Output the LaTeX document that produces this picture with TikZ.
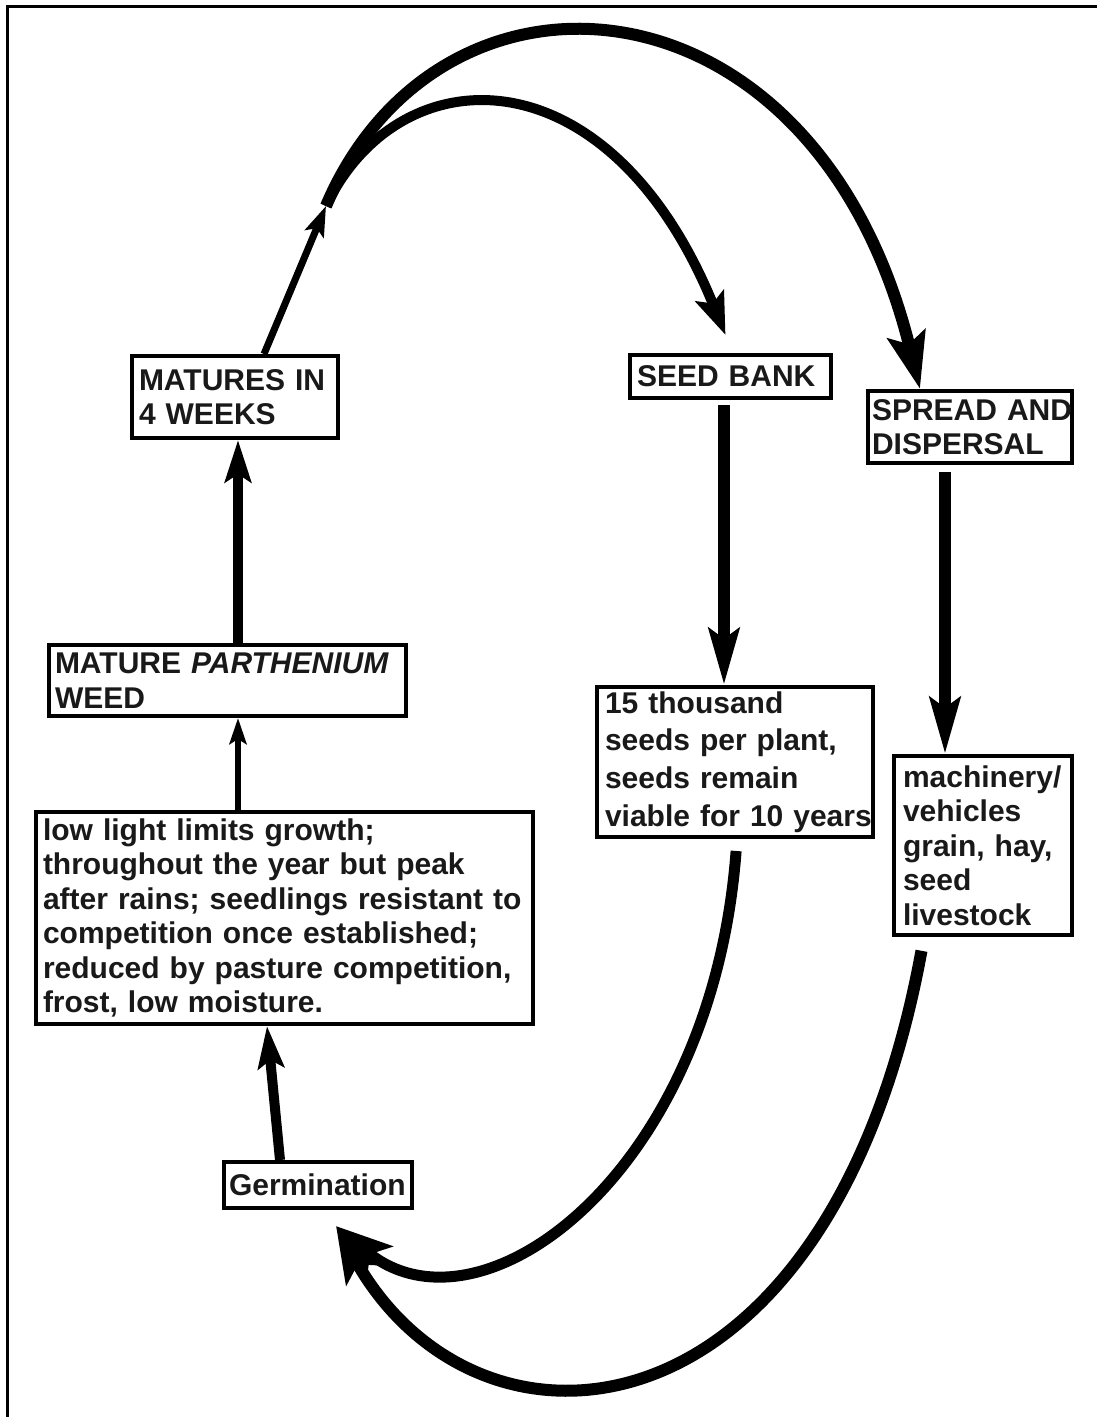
\documentclass[tikz,border=0pt]{standalone}
\usepackage{fontspec}
\setmainfont{Liberation Sans}
\usetikzlibrary{arrows.meta}
\begin{document}
\begin{tikzpicture}[x=1pt,y=-1pt,line cap=butt,
  box/.style={draw=black, line width=4pt, fill=white, anchor=north west, align=left,
    inner ysep=1pt, text=black!90, font=\fontsize{30}{34.5}\selectfont\bfseries},
  flow/.style={draw=black, line width=#1},
  smallhead/.style={-{Stealth[length=26pt,width=17pt,inset=5pt]}},
  midhead/.style={-{Stealth[length=42pt,width=26pt,inset=8pt]}},
  longhead/.style={-{Stealth[length=56pt,width=30pt,inset=10pt]}},
  bighead/.style={-{Stealth[length=56pt,width=40pt,inset=12pt]}}]
\useasboundingbox (0,0) rectangle (1097,1417);
\fill[white] (0,0) rectangle (1097,1417);
\draw[line width=3pt] (7,1417) -- (7,6) -- (1097,6);

% boxes
\node[box, inner xsep=7pt, text width=192pt, minimum height=82pt] (mat) at (130,354)
  {MATURES~IN\\4~WEEKS};
\node[box, inner xsep=6pt, text width=345pt, minimum height=71pt] (wee) at (47,643)
  {MATURE~\textit{PARTHENIUM}\\WEED};
\node[box, inner xsep=7pt, text width=483pt, minimum height=212pt] (big) at (34,810)
  {low light limits growth;\\throughout the year but peak\\after~rains;~seedlings~resistant~to\\competition once established;\\reduced~by~pasture~competition,\\frost, low moisture.};
\node[box, inner xsep=5pt, text width=178pt, minimum height=46pt] (ger) at (222,1160)
  {Germination};
\node[box, inner xsep=7pt, text width=187pt, minimum height=43pt] (sb) at (628,353)
  {SEED~BANK};
\node[box, inner xsep=4pt, text width=196pt, minimum height=72pt] (sp) at (866,389)
  {SPREAD~AND\\DISPERSAL};
\node[box, inner xsep=8pt, text width=260pt, minimum height=150pt,
  font=\fontsize{30}{37.7}\selectfont\bfseries] (th) at (595,685)
  {15~thousand\\seeds~per~plant,\\seeds~remain\\viable~for~10~years};
\node[box, inner xsep=9pt, text width=160pt, minimum height=179pt] (mac) at (892,754)
  {machinery/\\vehicles\\grain,~hay,\\seed\\livestock};

% junction above the first box
\coordinate (j) at (326,206);

% straight arrows
\draw[flow=7pt, -{Stealth[length=30pt,width=20pt,inset=6pt]}]
  ([xshift=29pt]mat.north) -- (j);
\draw[flow=10pt, midhead] ([xshift=10.5pt]wee.north) -- ([xshift=3pt]mat.south);
\draw[flow=6pt, smallhead] ([xshift=-46.5pt]big.north) -- ([xshift=10.5pt]wee.south);
\draw[flow=10pt, midhead] ([xshift=-38pt]ger.north) -- ([xshift=-17.5pt]big.south);
\draw[flow=12pt, longhead, shorten <=5pt] ([xshift=-6.5pt]sb.south) -- ([xshift=-11pt]th.north);
\draw[flow=12pt, longhead, shorten <=7pt] ([xshift=-25pt]sp.south) -- ([xshift=-38pt]mac.north);

% top arcs
\draw[flow=12pt, -{Stealth[length=56pt,width=38pt,inset=10pt]}]
  (j) .. controls (440,-62) and (815,-35) .. ([xshift=-50pt]sp.north);
\draw[flow=10pt, -{Stealth[length=42pt,width=30pt,inset=8pt]}]
  (j) .. controls (400,52) and (610,50) .. ([xshift=-5pt,yshift=18pt]sb.north);

% bottom arcs
\draw[flow=11pt, bighead, shorten <=12pt]
  ([xshift=2pt]th.south) .. controls (712,1175) and (480,1345) .. ([xshift=18pt,yshift=-16pt]ger.south);
\draw[flow=12pt, bighead, shorten <=14pt]
  ([xshift=-59pt]mac.south) .. controls (830,1450) and (480,1480) .. ([xshift=18pt,yshift=-16pt]ger.south);
\end{tikzpicture}
\end{document}
